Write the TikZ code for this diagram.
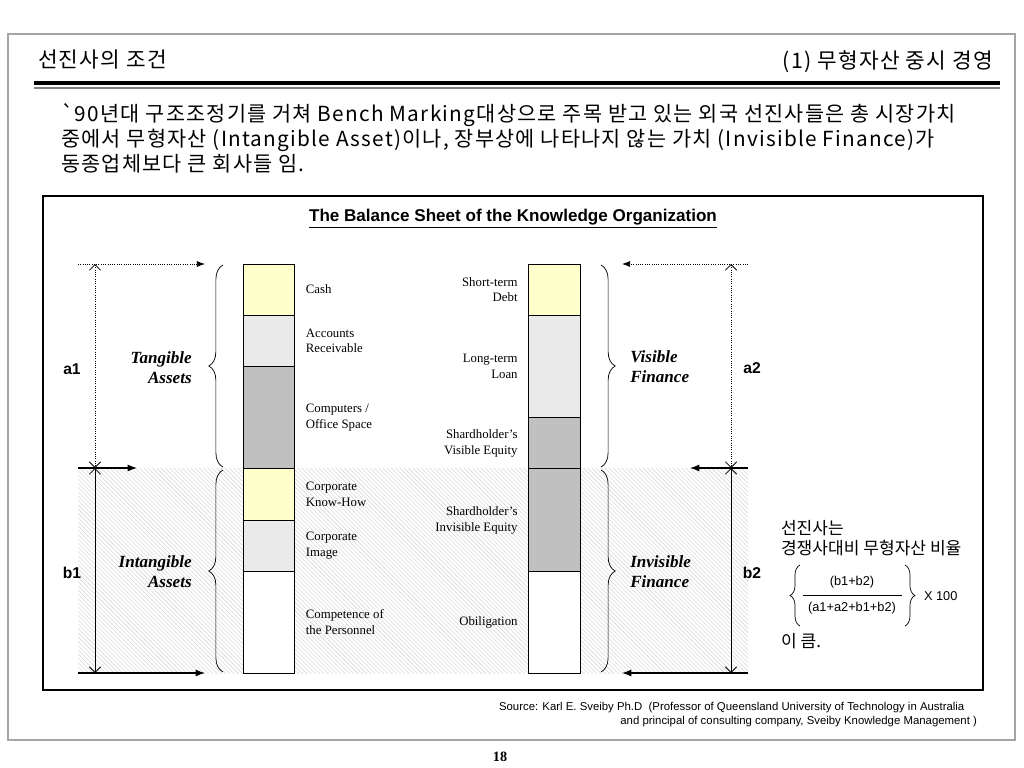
\documentclass[tikz,border=0pt]{standalone}
\usepackage{fontspec}
\setmainfont{Liberation Serif}
\newfontfamily\kr{Noto Sans CJK KR}
\newfontfamily\krsp[LetterSpace=6]{Noto Sans CJK KR}
\newfontfamily\arial{Liberation Sans}
\usetikzlibrary{arrows.meta,positioning,decorations.pathreplacing,patterns}
\definecolor{paleyel}{RGB}{255,255,204}
\definecolor{litegray}{RGB}{234,234,234}
\definecolor{midgray}{RGB}{192,192,192}
\definecolor{framegray}{RGB}{165,165,165}

\begin{document}
\begin{tikzpicture}[x=0.703pt,y=-0.703pt,>=Latex,node distance=0pt]
  \tikzstyle{seg}=[draw,line width=0.7pt,minimum width=36.5pt,inner sep=0pt,outer sep=0pt]
  \tikzstyle{lbl}=[font=\fontsize{9}{11.2}\selectfont,inner sep=0pt]
  \tikzstyle{big}=[font=\fontsize{12}{14}\selectfont\bfseries\itshape,inner sep=0pt]
  \tikzstyle{dim}=[font=\arial\bfseries\fontsize{11}{13}\selectfont]
  \tikzstyle{brc}=[decorate,decoration={brace,amplitude=10pt},line width=0.5pt]
  \tikzstyle{tick}=[{Straight Barb[length=4pt,width=8pt]}-{Straight Barb[length=4pt,width=8pt]},line width=0.6pt]
  \useasboundingbox (0,0) rectangle (1024,768);
  \draw[framegray,line width=1pt] (8,34) rectangle (1015,740);
  % header
  \node[anchor=west,font=\krsp\fontsize{15}{18}\selectfont] (title) at (33,60) {선진사의 조건};
  \node[anchor=east,font=\krsp\fontsize{15}{18}\selectfont] (sub) at (998,62) {(1) 무형자산 중시 경영};
  \draw[line width=2.8pt] (34,83) -- (1000,83);
  \draw[gray,line width=0.8pt] (34,88) -- (1000,88);
  \node[anchor=north west,align=left,font=\krsp\fontsize{14.6}{17.6}\selectfont] (intro) at (56,98)
    {`90년대 구조조정기를 거쳐 Bench Marking대상으로 주목 받고 있는 외국 선진사들은 총 시장가치\\
     중에서 무형자산 (Intangible Asset)이나, 장부상에 나타나지 않는 가치 (Invisible Finance)가\\
     동종업체보다 큰 회사들 임.};
  % balance sheet
  \draw[line width=0.8pt] (43,196) rectangle (983,690);
  \node[font=\arial\bfseries\fontsize{12}{14}\selectfont] (bstitle) at (513,219)
    {\underline{The Balance Sheet of the Knowledge Organization}};
  \fill[pattern=north west lines,pattern color=gray!30] (78,468) rectangle (748,673);
  \node[seg,fill=paleyel,minimum height=36pt,anchor=north] (cash) at (269,264) {};
  \node[seg,fill=litegray,minimum height=36pt,below=of cash] (recv) {};
  \node[seg,fill=midgray,minimum height=72pt,below=of recv] (comp) {};
  \node[seg,fill=paleyel,minimum height=36pt,below=of comp] (know) {};
  \node[seg,fill=litegray,minimum height=36pt,below=of know] (image) {};
  \node[seg,fill=white,minimum height=72pt,below=of image] (staff) {};
  \node[seg,fill=paleyel,minimum height=36pt,anchor=north] (debt) at (554.5,264) {};
  \node[seg,fill=litegray,minimum height=72pt,below=of debt] (loan) {};
  \node[seg,fill=midgray,minimum height=36pt,below=of loan] (viseq) {};
  \node[seg,fill=midgray,minimum height=72pt,below=of viseq] (inveq) {};
  \node[seg,fill=white,minimum height=72pt,below=of inveq] (oblig) {};
  \node[lbl,align=left,right=7.5pt of cash] (cashT) {Cash};
  \node[lbl,align=left,right=7.5pt of recv] (recvT) {Accounts\\Receivable};
  \node[lbl,align=left,right=7.5pt of comp] (compT) {Computers /\\Office Space};
  \node[lbl,align=left,right=7.5pt of know] (knowT) {Corporate\\Know-How};
  \node[lbl,align=left,right=7.5pt of image] (imageT) {Corporate\\Image};
  \node[lbl,align=left,right=7.5pt of staff] (staffT) {Competence of\\the Personnel};
  \node[lbl,align=right,left=7.5pt of debt] (debtT) {Short-term\\Debt};
  \node[lbl,align=right,left=7.5pt of loan] (loanT) {Long-term\\Loan};
  \node[lbl,align=right,left=7.5pt of viseq] (viseqT) {Shardholder’s\\Visible Equity};
  \node[lbl,align=right,left=7.5pt of inveq] (inveqT) {Shardholder’s\\Invisible Equity};
  \node[lbl,align=right,left=7.5pt of oblig] (obligT) {Obiligation};
  % braces
  \draw[brc] (223,467) -- (223,265);
  \draw[brc] (223,672) -- (223,470);
  \draw[brc] (601,265) -- (601,467);
  \draw[brc] (601,470) -- (601,672);
  \node[big,align=right,anchor=east] (tang) at (192,368) {Tangible\\Assets};
  \node[big,align=right,anchor=east] (intang) at (192,572) {Intangible\\Assets};
  \node[big,align=left,anchor=west] (vis) at (630,367) {Visible\\Finance};
  \node[big,align=left,anchor=west] (invis) at (630,572) {Invisible\\Finance};
  % dimension lines
  \coordinate (ta) at (78,264);  \coordinate (tah) at (205,264);
  \coordinate (ma) at (78,468);  \coordinate (mah) at (137,468);
  \coordinate (ba) at (78,673);  \coordinate (bah) at (205,673);
  \coordinate (vt) at (95,264);  \coordinate (vm) at (95,468);  \coordinate (vb) at (95,673);
  \coordinate (tb) at (748,264); \coordinate (tbh) at (622,264);
  \coordinate (mb) at (748,468); \coordinate (mbh) at (690,468);
  \coordinate (bb) at (748,673); \coordinate (bbh) at (622,673);
  \coordinate (wt) at (731,264); \coordinate (wm) at (731,468); \coordinate (wb) at (731,673);
  \draw[densely dotted,line width=0.6pt,->] (ta) -- (tah);
  \draw[line width=0.8pt,->] (ma) -- (mah);
  \draw[line width=0.8pt,->] (ba) -- (bah);
  \draw[tick,densely dotted] (vt) -- (vm);
  \draw[tick] (vm) -- (vb);
  \draw[densely dotted,line width=0.6pt,->] (tb) -- (tbh);
  \draw[line width=0.8pt,->] (mb) -- (mbh);
  \draw[line width=0.8pt,->] (bb) -- (bbh);
  \draw[tick,densely dotted] (wt) -- (wm);
  \draw[tick] (wm) -- (wb);
  \node[dim] (a1) at (72,369) {a1};
  \node[dim] (b1) at (72,573) {b1};
  \node[dim] (a2) at (752,368) {a2};
  \node[dim] (b2) at (752,573) {b2};
  % ratio
  \node[anchor=west,font=\kr\fontsize{12}{15}\selectfont] (lead) at (776,528) {선진사는};
  \node[anchor=west,font=\kr\fontsize{12}{15}\selectfont] (ratio) at (776,548) {경쟁사대비 무형자산 비율};
  \node[font=\arial\fontsize{9}{11}\selectfont] (num) at (852,582) {(b1+b2)};
  \node[font=\arial\fontsize{9}{11}\selectfont] (den) at (852,608) {(a1+a2+b1+b2)};
  \coordinate (fl) at (803,595); \coordinate (fr) at (902,595);
  \draw[line width=0.6pt] (fl) -- (fr);
  \draw[decorate,decoration={brace,amplitude=7pt},line width=0.5pt] (800,626) -- (800,565);
  \draw[decorate,decoration={brace,amplitude=7pt},line width=0.5pt] (905,565) -- (905,626);
  \node[anchor=west,font=\arial\fontsize{9}{11}\selectfont] (times) at (919,596) {X 100};
  \node[anchor=west,font=\kr\fontsize{12}{15}\selectfont] (big) at (776,641) {이 큼.};
  % footer
  \node[anchor=west,font=\arial\fontsize{8}{9}\selectfont] (src1) at (494,708)
    {Source: Karl E. Sveiby Ph.D~~(Professor of Queensland University of Technology in Australia};
  \node[anchor=east,font=\arial\fontsize{8}{9}\selectfont] (src2) at (982,722)
    {and principal of consulting company, Sveiby Knowledge Management )};
  \node[font=\bfseries\fontsize{10}{12}\selectfont] (page) at (500,757) {18};
\end{tikzpicture}
\end{document}
